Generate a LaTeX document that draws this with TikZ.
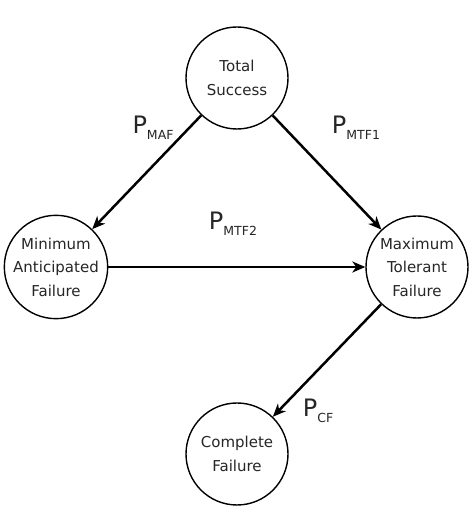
\documentclass[tikz,border=0pt]{standalone}
\usepackage{fontspec}
\setmainfont{DejaVu Sans}
\usetikzlibrary{arrows.meta}
\begin{document}
\begin{tikzpicture}[x=1pt,y=1pt,
  state/.style={circle, draw=black, line width=1.4pt, minimum size=102pt, inner sep=0pt,
    align=center, font=\fontsize{15}{23.5}\selectfont, text=black!85},
  flow/.style={line width=2.5pt, -{Stealth[length=13pt,width=11pt,inset=4pt]}},
  prob/.style={font=\fontsize{24}{24}\selectfont, text=black!85, inner sep=0pt}
]
\newcommand{\plabel}[1]{P\raisebox{-6pt}{\fontsize{12.5}{12.5}\selectfont #1}}
\useasboundingbox (0,0) rectangle (476,506);
\fill[white] (0,0) rectangle (476,506);

\node[state] (ts)  at (237,428) {Total\\Success};
\node[state] (maf) at (56,239)  {Minimum\\Anticipated\\Failure};
\node[state] (mtf) at (417,239) {Maximum\\Tolerant\\Failure};
\node[state] (cf)  at (237,52)  {Complete\\Failure};

\draw[flow] (ts) -- (maf);
\draw[flow] (ts) -- (mtf);
\draw[flow] (maf) -- (mtf);
\draw[flow] (mtf) -- (cf);

\node[prob] (lmaf)  at (153,378) {\plabel{MAF}};
\node[prob] (lmtf1) at (356,378) {\plabel{MTF1}};
\node[prob] (lmtf2) at (233,282) {\plabel{MTF2}};
\node[prob] (lcf)   at (318,95)  {\plabel{CF}};
\end{tikzpicture}
\end{document}
